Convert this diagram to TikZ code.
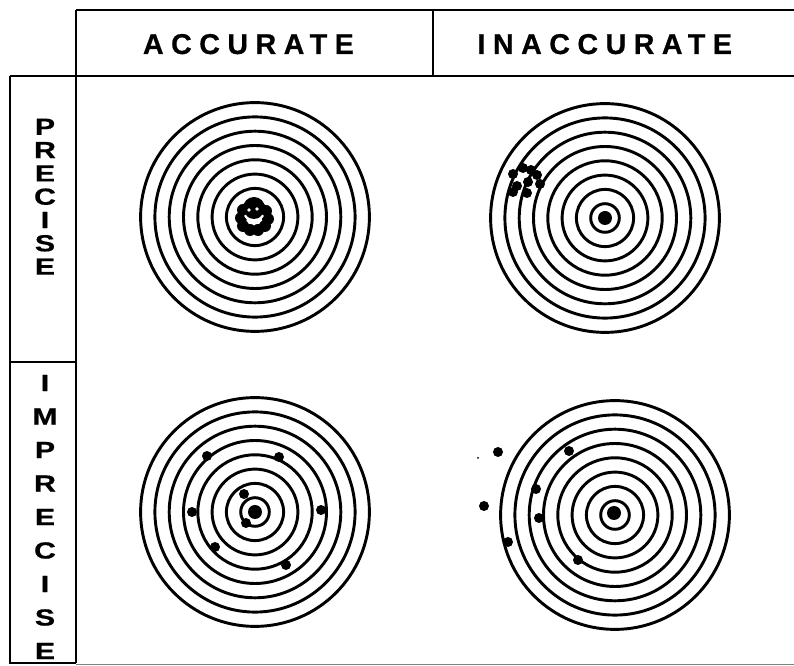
\documentclass[tikz,border=0pt]{standalone}
\usepackage{fontspec}
\setmainfont{Liberation Sans}
\begin{document}
\begin{tikzpicture}[x=0.75pt,y=-0.75pt,
  frame/.style={line width=1.6pt},
  ring/.style={line width=2.2pt},
  shot/.style={fill=black},
  headtext/.style={font=\fontsize{21.5}{24}\selectfont\bfseries\addfontfeatures{LetterSpace=26,FakeBold=0.6}, inner sep=0pt, anchor=base west},
  sidetext/.style={font=\fontsize{17.5}{20}\selectfont\bfseries\addfontfeatures{FakeStretch=1.3,FakeBold=0.6}, inner sep=0pt, anchor=center}]
\useasboundingbox (0,0) rectangle (794,666);
% frame
\draw[frame] (76,10) -- (794,10);
\draw[frame] (76,10) -- (76,663);
\draw[frame] (433,10) -- (433,76);
\draw[frame] (10,76) -- (794,76);
\draw[frame] (10,76) -- (10,663) -- (76,663);
\draw[frame] (10,362) -- (76,362);
\draw[line width=0.6pt, black!50] (76,664) -- (794,664);
% headings
\node[headtext] (acc) at (142.7,54) {ACCURATE};
\node[headtext] (inacc) at (477.3,54) {INACCURATE};
\foreach \l [count=\i] in {P,R,E,C,I,S,E}
  \node[sidetext] (pre\i) at (45, {103.5+23.3*\i}) {\l};
\foreach \l [count=\i] in {I,M,P,R,E,C,I,S,E}
  \node[sidetext] (imp\i) at (45, {349.5+33.5*\i}) {\l};
% targets
\foreach \c/\x/\y in {tl/255/217, tr/605/218, bl/255/512, br/615/515}{
  \coordinate (\c) at (\x,\y);
  \foreach \k in {1,...,8}
    \draw[ring] (\c) circle[radius={14.3*\k}];
}
% centre dots
\fill (tr) circle[radius=7];
\fill (bl) circle[radius=7];
\fill (614,513) circle[radius=7];
% top-left cluster
\fill (254,208) circle[radius=11];
\foreach \x/\y in {243/226, 250/230, 258/230, 265/226, 268/219, 241/218, 266/211, 243/210}
  \fill (\x,\y) circle[radius=6];
\fill[white] (249,210) circle[radius=1.8];
\fill[white] (257,209) circle[radius=1.8];
\draw[white, line width=1.6pt] (254,211) ++(25:10) arc[start angle=25, end angle=155, radius=10];
% top-right cluster
\foreach \x/\y in {523/168, 513/174, 537/175, 517/186, 528/182, 540/184, 513/192, 527/193, 531/170}
  \fill[shot] (\x,\y) circle[radius=5];
% bottom-left shots
\foreach \x/\y in {207/456, 279/457, 192/512, 321/510, 244/494, 215/547, 286/565, 246/523}
  \fill[shot] (\x,\y) circle[radius=5];
% bottom-right shots
\foreach \x/\y in {498/452, 484/506, 569/451, 536/489, 539/518, 508/542, 578/560}
  \fill[shot] (\x,\y) circle[radius=5];
\fill (478,458) circle[radius=1];
\end{tikzpicture}
\end{document}
